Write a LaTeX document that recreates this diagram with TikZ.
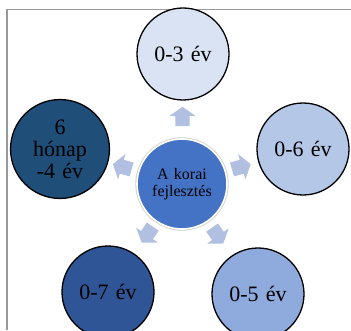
\documentclass[tikz,border=0pt]{standalone}
\usepackage{fontspec}
\setmainfont{Liberation Serif}
\usepackage{xcolor}
\usepackage{tikz}
\usetikzlibrary{shapes.arrows, calc}
\definecolor{agelight}{HTML}{DAE3F3}
\definecolor{agepale}{HTML}{B4C7E7}
\definecolor{agemid}{HTML}{8FAADC}
\definecolor{agedeep}{HTML}{2F5597}
\definecolor{agedark}{HTML}{1F4E79}
\definecolor{hubblue}{HTML}{4472C4}
\definecolor{pushblue}{HTML}{B1C0E0}
\definecolor{framegray}{HTML}{999999}

\begin{document}
\begin{tikzpicture}[
  x=1pt, y=1pt,
  stage/.style={circle, draw=black, line width=1.3pt, fill=#1, minimum size=92pt,
    inner sep=0pt, text width=80pt, align=center, font=\fontsize{22}{22}\selectfont},
  hub/.style={circle, fill=hubblue, draw=white, line width=1.6pt,
    preaction={draw=black!18, line width=3.4pt}, minimum size=90pt,
    inner sep=0pt, text width=80pt, align=center, font=\fontsize{16}{16.5}\selectfont},
  push/.style={single arrow, fill=pushblue, draw=none, minimum height=19pt,
    minimum width=26pt, single arrow head extend=6pt,
    single arrow tip angle=110, inner sep=7pt},
]
  \useasboundingbox (0,0) rectangle (351,330);
  % frame
  \draw[framegray, line width=1.2pt] (7,0) -- (7,320.5) -- (351,320.5);

  \node[hub] (hub) at (182,146) {A korai\\fejlesztés};

  \node[stage=agelight] (m3) at (183,276) {0-3 év};
  \node[stage=agepale] (m6) at (303,181) {0-6 év};
  \node[stage=agemid] (m5) at (258,36) {0-5 év};
  \node[stage=agedeep] (m7) at (108,38) {0-7 év};
  \node[stage=agedark] (m4) at (60,181) {6\\hónap\\-4 év};

  % arrows
  \node[push, rotate=90] (p3) at ($(hub)!0.5!(m3)$) {};
  \node[push, rotate=16] (p6) at ($(hub)!0.47!(m6)$) {};
  \node[push, rotate=-55] (p5) at ($(hub)!0.45!(m5)$) {};
  \node[push, rotate=-124.5] (p7) at ($(hub)!0.45!(m7)$) {};
  \node[push, rotate=164] (p4) at ($(hub)!0.47!(m4)$) {};
\end{tikzpicture}
\end{document}
